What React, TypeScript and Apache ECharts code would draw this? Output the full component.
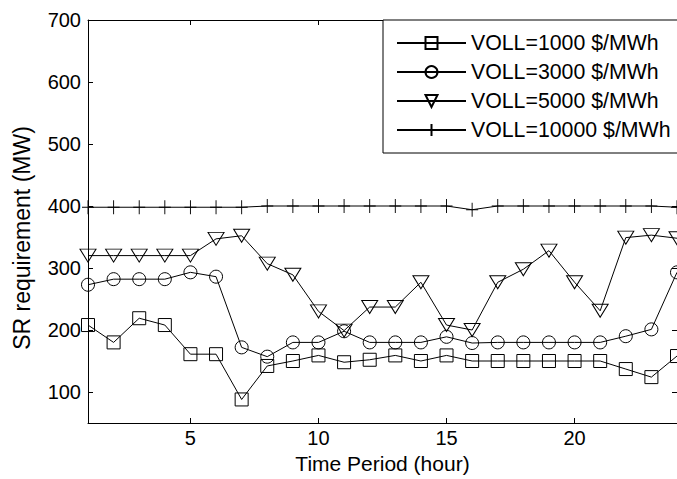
import React, { useEffect, useRef } from "react";
import * as echarts from "echarts";

const hours = [1, 2, 3, 4, 5, 6, 7, 8, 9, 10, 11, 12, 13, 14, 15, 16, 17, 18, 19, 20, 21, 22, 23, 24];
const voll1000 = [208, 180, 219, 208, 161, 161, 88, 142, 150, 159, 148, 152, 159, 150, 159, 150, 150, 150, 150, 150, 150, 137, 124, 158];
const voll3000 = [273, 282, 282, 282, 293, 286, 172, 157, 180, 180, 198, 180, 180, 180, 189, 179, 180, 180, 180, 180, 180, 190, 201, 293];
const voll5000 = [320, 320, 320, 320, 320, 347, 352, 307, 289, 230, 199, 237, 237, 277, 208, 200, 277, 298, 328, 277, 231, 349, 353, 348];
const voll10000 = [398, 398, 398, 398, 398, 398, 398, 400, 400, 400, 400, 400, 400, 400, 400, 394, 400, 400, 400, 400, 400, 400, 400, 398];
const seriesNames = ["VOLL=1000 $/MWh", "VOLL=3000 $/MWh", "VOLL=5000 $/MWh", "VOLL=10000 $/MWh"];
const xTicks = [5, 10, 15, 20];
const yTicks = [100, 200, 300, 400, 500, 600, 700];

const FONT = "'Liberation Sans', Arial, Helvetica, sans-serif";

export default function App() {
  const ref = useRef<HTMLDivElement>(null);
  useEffect(() => {
    if (!ref.current) return;
    const chart = echarts.init(ref.current, null, { renderer: "svg" });
    const pair = (vals: number[]) => hours.map((h, i) => [h, vals[i]]);
    const common = {
      type: "line",
      clip: false,
      lineStyle: { color: "#000", width: 1 },
      itemStyle: { color: "rgba(0,0,0,0)", borderColor: "#000", borderWidth: 1 },
      emphasis: { disabled: true },
    };
    const axisCommonX = {
      type: "value",
      min: 1,
      max: 24,
      splitLine: { show: false },
      axisLine: { show: true, onZero: false, lineStyle: { color: "#000", width: 1 } },
      axisTick: { show: true, inside: true, length: 5, customValues: xTicks, lineStyle: { color: "#000" } },
    };
    const axisCommonY = {
      type: "value",
      min: 50,
      max: 700,
      splitLine: { show: false },
      axisLine: { show: true, onZero: false, lineStyle: { color: "#000", width: 1 } },
      axisTick: { show: true, inside: true, length: 5, customValues: yTicks, lineStyle: { color: "#000" } },
    };
    chart.setOption({
      animation: false,
      backgroundColor: "#fff",
      textStyle: { fontFamily: FONT },
      grid: { left: 88, top: 20, right: -4, bottom: 52, containLabel: false },
      xAxis: [
        {
          ...axisCommonX,
          position: "bottom",
          name: "Time Period (hour)",
          nameLocation: "middle",
          nameGap: 30,
          nameTextStyle: { color: "#000", fontSize: 21, fontFamily: FONT },
          axisLabel: { show: true, customValues: xTicks, margin: 5, color: "#000", fontSize: 20, fontFamily: FONT },
        },
        {
          ...axisCommonX,
          position: "top",
          axisLabel: { show: false },
        },
      ],
      yAxis: [
        {
          ...axisCommonY,
          position: "left",
          name: "SR requirement (MW)",
          nameLocation: "middle",
          nameGap: 55,
          nameTextStyle: { color: "#000", fontSize: 23, fontFamily: FONT, padding: [0, 33, 0, 0] },
          axisLabel: { show: true, customValues: yTicks, margin: 7, color: "#000", fontSize: 20, fontFamily: FONT },
        },
        {
          ...axisCommonY,
          position: "right",
          axisLabel: { show: false },
        },
      ],
      legend: {
        orient: "vertical",
        left: 383,
        top: 20,
        padding: [12, 40, 12, 13],
        itemWidth: 69,
        itemHeight: 15,
        itemGap: 7,
        backgroundColor: "#fff",
        borderColor: "#000",
        borderWidth: 1,
        borderRadius: 0,
        selectedMode: false,
        textStyle: { color: "#000", fontSize: 21.3, lineHeight: 22, fontFamily: FONT },
        data: seriesNames,
      },
      series: [
        { ...common, name: seriesNames[0], data: pair(voll1000), symbol: "rect", symbolSize: 13 },
        { ...common, name: seriesNames[1], data: pair(voll3000), symbol: "circle", symbolSize: 13 },
        { ...common, name: seriesNames[2], data: pair(voll5000), symbol: "triangle", symbolRotate: 180, symbolSize: [16, 13] },
        {
          ...common,
          name: seriesNames[3],
          data: pair(voll10000),
          symbol: "path://M5,0L5,10M0,5L10,5",
          symbolSize: [12, 14],
        },
      ],
    });
    return () => chart.dispose();
  }, []);
  return (
    <div
      ref={ref}
      style={{ position: "absolute", left: 0, top: 0, width: 677, height: 479, overflow: "hidden" }}
    />
  );
}
